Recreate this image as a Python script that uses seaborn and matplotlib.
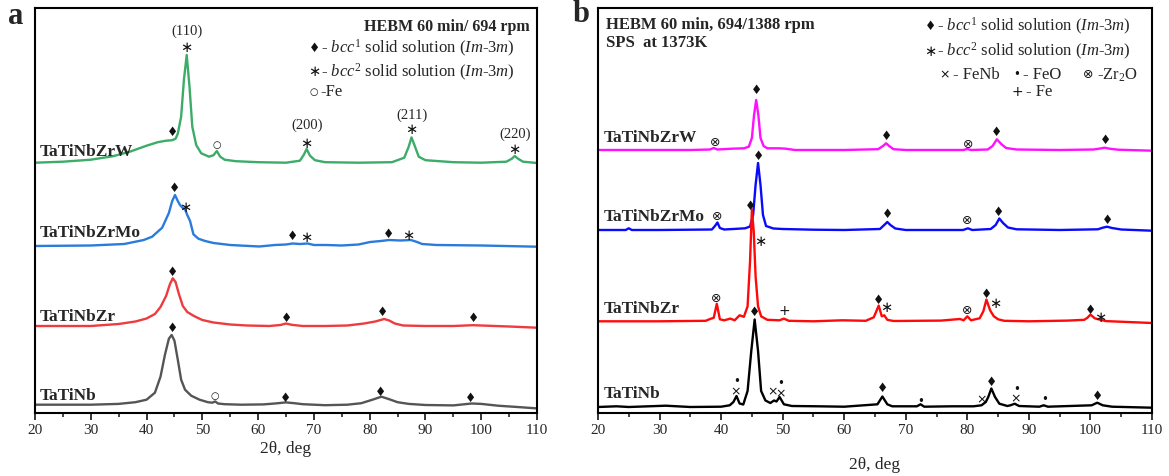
import numpy as np
import pandas as pd
import matplotlib
matplotlib.use("Agg")
import matplotlib.pyplot as plt
import seaborn as sns

# ---------------- data: panel a (HEBM powders) ----------------
a_W_tt = [20, 25, 30, 34, 37, 40, 42, 43.5, 44.6, 45.2, 45.6, 46.2, 46.7, 47.2, 47.7, 48.2, 48.9, 49.8, 51.2, 52.0, 52.6, 53.2, 54, 56, 60, 65, 67.5, 68.2, 68.7, 69.3, 70.2, 72, 78, 84, 86.2, 87.0, 87.5, 88.0, 88.8, 90, 95, 100, 104.5, 105.5, 106.0, 106.6, 107.5, 110]
a_W_I = [0, 1, 3, 6.5, 11, 17, 20.5, 22, 22.5, 24, 29, 46, 83, 107.7, 76, 36, 17.7, 9.4, 6, 7.5, 11.7, 6, 3, 1.5, 0.5, 0, 2, 8, 13.7, 7, 2.5, 0.5, 0, 0.5, 5, 16, 25.3, 18, 6, 2.5, 0.5, 0, 1, 4, 6.7, 4, 1, -0.3]

a_Mo_tt = [20, 30, 36, 39.5, 41, 42.8, 44.0, 44.6, 45.1, 45.6, 46.0, 46.5, 46.9, 47.3, 47.8, 48.4, 49.3, 50.5, 52, 55, 60.2, 63, 65, 66.2, 67.5, 68.9, 70, 72.2, 75, 78, 80.1, 82, 83.5, 85.5, 87.4, 88.5, 89.4, 92, 100, 110]
a_Mo_I = [0, 0.5, 2, 6, 9.3, 18.3, 33, 45, 51, 45, 41, 38, 36.7, 31, 25, 11.7, 7.3, 5, 3, 1, -0.5, 1, 1.5, 2.5, 2, 2.5, 1, 1, 0.5, 1.5, 4, 5, 6, 5.5, 6, 4, 2, 1, 0.5, -0.7]

a_Zr_tt = [20, 25, 30, 35, 38, 40, 41.5, 42.5, 43.5, 44.2, 44.7, 45.2, 45.8, 46.5, 47.3, 48.5, 50, 52, 55, 58, 62, 64, 65.0, 66, 68, 72, 76, 79, 81, 82.6, 83.5, 84.5, 86, 90, 95, 98.5, 101, 105, 110]
a_Zr_I = [0, 0, 0, 2, 4.5, 7.5, 12, 19, 30, 42, 47.7, 44, 32, 20, 14, 10, 6, 3.5, 1.5, 0.5, 0, 1, 2.5, 1.2, 0, 0, 0.5, 2.5, 4.5, 7, 5.5, 2.5, 0.5, 0, 0, 0.8, 0.3, -0.5, -1.7]

a_Nb_tt = [20, 25, 30, 35, 38, 40, 41.5, 42.5, 43.3, 44.0, 44.5, 45.0, 45.6, 46.2, 46.9, 48, 49.5, 51.0, 51.8, 52.3, 52.8, 54, 57, 61, 63, 65, 66.5, 68, 72, 76, 78.5, 80.5, 82.1, 83.5, 85, 87, 90, 95, 98.3, 100, 103, 107, 110]
a_Nb_I = [0, 0, 0, 0.8, 2.5, 5, 12, 28, 50, 66, 69.7, 64, 45, 25, 15, 9, 5, 2.5, 2, 3.3, 1.2, 0.5, 0, 0.3, 1.2, 2.3, 1.5, 0.5, -0.5, 0, 1.5, 5, 8, 5.5, 2.5, 0.8, -0.3, -0.7, 1.2, 0.8, -1, -2.5, -3.7]

# ---------------- data: panel b (after SPS at 1373K) ----------------
b_W_tt = [20, 25, 30, 35, 38.2, 38.8, 39.4, 41.7, 43.7, 44.5, 45.0, 45.35, 45.7, 46.05, 46.4, 46.9, 47.5, 49.5, 50.5, 52, 60, 65.5, 66.3, 66.8, 67.3, 68.0, 70, 79.3, 80.0, 80.6, 83.3, 84.1, 84.8, 85.5, 86.3, 88, 95, 100.5, 101.6, 102.3, 103.1, 104.5, 110]
b_W_I = [0, 0, 0, 0, 0.5, 2, 0.5, 1.3, 1.7, 3.3, 12, 35, 50, 35, 12, 4, 1.7, 1.7, 1.3, 0, 0, 0.8, 4, 6.7, 4, 0.8, 0, 0, 1, 0, 0.5, 4, 10.7, 6, 2, 0.5, 0, 0.5, 1.5, 2.3, 1.3, 0.3, -0.7]

b_Mo_tt = [20, 24.5, 25, 25.5, 30, 38.5, 39.0, 39.4, 39.8, 40.5, 42, 43.9, 44.7, 45.2, 45.6, 46.0, 46.4, 46.8, 47.3, 48.5, 50, 55, 60, 65.8, 66.5, 67.0, 67.5, 68.3, 70, 79.3, 80.1, 80.8, 83.8, 84.6, 85.2, 85.8, 86.6, 88, 95, 101.2, 102.0, 102.7, 103.5, 105, 110]
b_Mo_I = [0, 0, 1.7, 0, 0, 0.5, 4, 7.5, 2, 0.5, 1, 1.7, 3.5, 15, 45, 67, 45, 15, 4, 1.5, 1, 0.3, 0, 1, 5, 8, 5, 1.5, 0, 0, 1.7, 0, 1, 5, 11.5, 7, 2.5, 0.7, 0, 0.7, 2.3, 3.3, 2, 0.5, -0.7]

b_Zr_tt = [20, 30, 37.5, 38.2, 38.8, 39.3, 39.8, 40.5, 41.5, 42.2, 43.0, 43.7, 44.3, 44.7, 45.0, 45.3, 45.6, 46.0, 46.5, 47.5, 49.5, 50.2, 51, 55, 59.7, 63.5, 64.8, 65.6, 66.1, 66.5, 67.0, 68, 75.7, 78.8, 79.4, 80.0, 80.6, 82.0, 82.6, 83.1, 83.7, 84.3, 85.0, 86, 90, 96.3, 99.0, 99.5, 100.0, 100.7, 101.5, 102.5, 110]
b_Zr_I = [0, 0, 0.5, 2.3, 3.5, 17.5, 2, 1, 2.7, 1, 6, 4.5, 15, 60, 111.7, 90, 45, 15, 5, 1.5, 1, 2.7, 0.5, 0, 1, 0.5, 4, 15.7, 5, 6, 1.5, 0.3, 0.7, 2.3, 1, 5, 1, 3, 10, 21.7, 11, 5, 2, 0.5, 0, 0.7, 1.5, 3.5, 6.7, 3, 1.7, 0.2, -1.7]

b_Nb_tt = [20, 23, 25, 31, 35, 40, 41.4, 42.0, 42.5, 43.0, 43.6, 44.3, 44.9, 45.45, 46.0, 46.5, 47.2, 48.0, 48.6, 49.0, 49.5, 50.2, 51.5, 55.8, 60, 65.4, 66.2, 67.0, 67.8, 71.8, 72.4, 73.0, 77.5, 81, 82.3, 83.0, 83.4, 83.9, 84.5, 85.2, 86.5, 87.0, 87.7, 88.4, 91.7, 92.4, 93.1, 100.2, 101.1, 102.0, 103.5, 110]
b_Nb_I = [0, 0.7, 0, 1.3, 0, 0.3, 1.7, 5, 11, 3.5, 2.5, 16, 56, 87.5, 56, 16, 6.5, 4, 6.5, 5.5, 10, 2.7, 1, 0.7, 0.3, 2.7, 10.5, 2.7, 0.7, 0.7, 2.7, 0.3, 0.7, 0.7, 1.7, 5, 10, 18.5, 10, 3.3, 1, 1.7, 3.3, 1, 0.3, 1.7, 0.3, 1.7, 4.3, 1.7, 0.3, -0.7]

# vertical stacking offsets of the patterns
a_offsets = [250.3, 167, 87, 8.3]
b_offsets = [263, 183, 91.7, 6]
sample_names = ["TaTiNbZrW", "TaTiNbZrMo", "TaTiNbZr", "TaTiNb"]
a_label_y = [261, 180, 96, 16.5]
b_label_y = [275, 196, 104, 19]
a_colors = ["#3cac68", "#2a7bdc", "#ee3b3f", "#555555"]
b_colors = ["#ff10ff", "#0a0aff", "#ff0a0a", "#000000"]

# phase markers (2theta, height, symbol)
a_marks = [
    (44.6, 281, "♦"), (47.2, 366, "∗"), (52.5, 268, "○"), (68.7, 270, "∗"), (87.5, 283, "∗"), (106.0, 263, "∗"),
    (45.1, 225, "♦"), (46.9, 206, "∗"), (66.1, 176, "♦"), (68.7, 176, "∗"), (83.4, 178, "♦"), (87.0, 178, "∗"),
    (44.7, 141, "♦"), (65.1, 95, "♦"), (82.3, 100, "♦"), (98.6, 94, "♦"),
    (44.6, 84, "♦"), (52.3, 17, "○"), (64.9, 15, "♦"), (81.9, 21, "♦"), (98.1, 14, "♦"),
]
a_hkl = [("(110)", 47.2, 382), ("(200)", 68.7, 288), ("(211)", 87.5, 298), ("(220)", 106.0, 279)]

b_marks = [
    (39.0, 270, "⊗"), (45.7, 322, "♦"), (66.8, 276, "♦"), (80.1, 269, "⊗"), (84.8, 280, "♦"), (102.4, 272, "♦"),
    (39.4, 197, "⊗"), (44.8, 207, "♦"), (46.0, 256, "♦"), (67.0, 199, "♦"), (80.0, 192, "⊗"), (85.1, 200, "♦"), (102.7, 193, "♦"),
    (39.2, 114, "⊗"), (46.3, 172, "∗"), (50.3, 102, "+"), (65.6, 112, "♦"), (66.8, 105, "∗"), (80.0, 103, "⊗"),
    (83.1, 119, "♦"), (84.5, 109, "∗"), (100.0, 103, "♦"), (101.6, 96, "∗"),
    (42.6, 31, "•"), (42.4, 21, "×"), (45.5, 101, "♦"), (48.3, 21, "×"), (49.6, 19, "×"), (49.7, 29, "•"),
    (66.3, 24, "♦"), (72.5, 11, "•"), (82.3, 13, "×"), (83.9, 30, "♦"), (88.0, 24, "•"), (87.9, 14, "×"),
    (92.6, 13, "•"), (101.2, 16, "♦"),
]

x_ticks = [20, 30, 40, 50, 60, 70, 80, 90, 100, 110]

# ---------------- styling ----------------
sns.set_theme(style="ticks")
serif = ["Liberation Serif", "DejaVu Serif", "DejaVu Sans"]
plt.rcParams["font.family"] = serif
plt.rcParams["mathtext.fontset"] = "custom"
plt.rcParams["mathtext.rm"] = "Liberation Serif"
plt.rcParams["mathtext.it"] = "Liberation Serif:italic"
plt.rcParams["mathtext.bf"] = "Liberation Serif:bold"
plt.rcParams["axes.linewidth"] = 1.5
plt.rcParams["axes.edgecolor"] = "black"

W, H = 1169, 476
fig = plt.figure(figsize=(W / 100, H / 100), dpi=100)
axA = fig.add_axes([35 / W, (H - 413) / H, 502 / W, 405 / H])
axB = fig.add_axes([598 / W, (H - 413) / H, 554 / W, 405 / H])

a_curves = [(a_W_tt, a_W_I), (a_Mo_tt, a_Mo_I), (a_Zr_tt, a_Zr_I), (a_Nb_tt, a_Nb_I)]
b_curves = [(b_W_tt, b_W_I), (b_Mo_tt, b_Mo_I), (b_Zr_tt, b_Zr_I), (b_Nb_tt, b_Nb_I)]

sym_font = ["DejaVu Sans"]
sym_size = {"∗": 10.5, "×": 9, "+": 10, "•": 8.5, "○": 7, "⊗": 9, "♦": 9}


def draw_panel(ax, curves, offsets, colors, label_y, marks):
    for (tt, I), off, c in zip(curves, offsets, colors):
        df = pd.DataFrame({"tt": tt, "I": np.asarray(I) + off})
        sns.lineplot(data=df, x="tt", y="I", ax=ax, color=c, lw=1.7, sort=False)
    for name, ly in zip(sample_names, label_y):
        ax.text(20.9, ly, name, fontsize=12.5, fontweight="bold", ha="left", va="center", family=serif)
    for x, y, s in marks:
        ax.text(x, y, s, fontsize=sym_size[s], ha="center", va="center", family=sym_font, color="#111111")
    ax.set_xlim(20, 110)
    ax.set_ylim(0, 405)
    ax.set_xticks(x_ticks)
    ax.set_xticks(np.arange(25, 110, 10), minor=True)
    ax.set_yticks([])
    ax.tick_params(axis="x", which="major", direction="out", length=5, width=1.3, labelsize=11, pad=3, bottom=True)
    ax.tick_params(axis="x", which="minor", direction="out", length=3, width=1.2, bottom=True)
    ax.set_ylabel("")
    for sp in ax.spines.values():
        sp.set_visible(True)
        sp.set_linewidth(1.5)


draw_panel(axA, a_curves, a_offsets, a_colors, a_label_y, a_marks)
draw_panel(axB, b_curves, b_offsets, b_colors, b_label_y, b_marks)

for txt, x, y in a_hkl:
    axA.text(x, y, txt, fontsize=10.5, ha="center", va="center", family=serif)

axA.set_xlabel("2θ, deg", fontsize=12.5, labelpad=3)
axB.set_xlabel("2θ, deg", fontsize=12.5, labelpad=14)

bcc1 = r"- $\mathit{bcc}^{1}$ solid solution $\mathit{(Im}$-$\mathit{3m)}$"
bcc2 = r"- $\mathit{bcc}^{2}$ solid solution $\mathit{(Im}$-$\mathit{3m)}$"


def legend_entry(ax, sym, rest, fx, fy, gap_px, width_px, fs=12):
    ax.text(fx, fy, sym, transform=ax.transAxes, fontsize=sym_size[sym], ha="center", va="center",
            family=sym_font, color="#111111")
    ax.text(fx + gap_px / width_px, fy, rest, transform=ax.transAxes, fontsize=fs, ha="left",
            va="center", family=serif)


# panel a legend text
axA.text(0.986, 0.954, "HEBM 60 min/ 694 rpm", transform=axA.transAxes, fontsize=11.5,
         fontweight="bold", ha="right", va="center")
legend_entry(axA, "♦", bcc1, 0.556, 0.901, 7, 502)
legend_entry(axA, "∗", bcc2, 0.556, 0.842, 7, 502)
legend_entry(axA, "○", "-Fe", 0.556, 0.793, 6, 502)

# panel b legend text
axB.text(0.014, 0.958, "HEBM 60 min, 694/1388 rpm", transform=axB.transAxes, fontsize=12,
         fontweight="bold", ha="left", va="center")
axB.text(0.014, 0.913, "SPS  at 1373K", transform=axB.transAxes, fontsize=12,
         fontweight="bold", ha="left", va="center")
legend_entry(axB, "♦", bcc1, 0.6, 0.954, 7, 554)
legend_entry(axB, "∗", bcc2, 0.6, 0.892, 7, 554)
legend_entry(axB, "×", "- FeNb", 0.625, 0.835, 9, 554)
legend_entry(axB, "•", "- FeO", 0.755, 0.835, 7, 554)
legend_entry(axB, "⊗", r"-Zr$_2$O", 0.885, 0.835, 9, 554)
legend_entry(axB, "+", "- Fe", 0.757, 0.793, 9, 554)

fig.text(16 / W, 1 - 16 / H, "a", fontsize=22, fontweight="bold", ha="center", va="center", family=serif)
fig.text(581 / W, 1 - 14 / H, "b", fontsize=22, fontweight="bold", ha="center", va="center", family=serif)

fig.savefig("out.png", dpi=100)
